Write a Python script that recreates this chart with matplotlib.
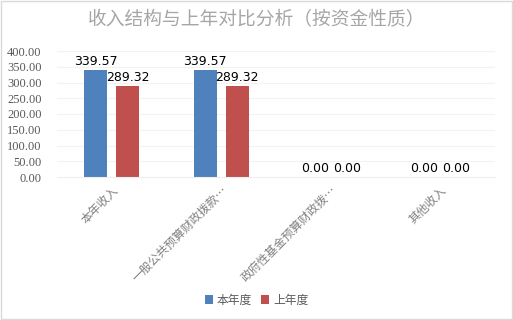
import matplotlib
matplotlib.use("Agg")
import matplotlib.pyplot as plt
import numpy as np

plt.rcParams['font.family'] = ['Noto Sans CJK SC', 'DejaVu Sans']

categories = ["本年收入", "一般公共预算财政拨款…", "政府性基金预算财政拨…", "其他收入"]
this_year = [339.57, 339.57, 0.00, 0.00]
last_year = [289.32, 289.32, 0.00, 0.00]
series_names = ["本年度", "上年度"]
yticks = [0, 50, 100, 150, 200, 250, 300, 350, 400]

fig = plt.figure(figsize=(5.13, 3.2), dpi=100)
ax = fig.add_axes([57/513, 1-177/320, (495-57)/513, (177-51)/320])

x = np.arange(len(categories))
w = 0.21
off = 0.145
c1, c2 = "#4F81BD", "#C0504D"
for yv in yticks[1:]:
    ax.axhline(yv, color="#F2F2F2", lw=0.8, zorder=0)
b1 = ax.bar(x - off, this_year, w, color=c1, label=series_names[0], zorder=2)
b2 = ax.bar(x + off, last_year, w, color=c2, label=series_names[1], zorder=2)
for bars, vals in ((b1, this_year), (b2, last_year)):
    for b, v in zip(bars, vals):
        ax.text(b.get_x() + b.get_width()/2, v + 6, f"{v:.2f}", ha="center", va="bottom",
                fontsize=9, color="#000000", family=['DejaVu Sans'])

ax.set_xlim(-0.5, len(categories) - 0.5)
ax.set_ylim(0, 400)
ax.set_yticks(yticks)
ax.set_yticklabels([f"{v:.2f}" for v in yticks], fontsize=9, color="#595959",
                   family=['Liberation Serif'])
ax.set_xticks(x)
ax.set_xticklabels(categories, rotation=45, ha="right", rotation_mode="anchor",
                   fontsize=8.5, color="#808080")
ax.tick_params(axis="y", length=0, pad=11)
ax.tick_params(axis="x", length=0, pad=5)
for s in ["top", "right", "left"]:
    ax.spines[s].set_visible(False)
ax.spines["bottom"].set_color("#EEEEEE")

fig.text(0.5, 1-20/320, "收入结构与上年对比分析（按资金性质）", ha="center", va="center",
         fontsize=13.5, color="#A6A6A6")
fig.legend(handles=[b1, b2], loc="center", bbox_to_anchor=(0.5, 1-300/320), ncol=2,
           frameon=False, fontsize=8.5, handlelength=0.7, handleheight=0.7,
           handletextpad=0.3, columnspacing=0.8, labelcolor="#595959")

border = plt.Rectangle((0.002, 0.003), 0.996, 0.994, transform=fig.transFigure,
                       fill=False, edgecolor="#D9D9D9", lw=1)
fig.add_artist(border)
fig.savefig("out.png", dpi=100)
